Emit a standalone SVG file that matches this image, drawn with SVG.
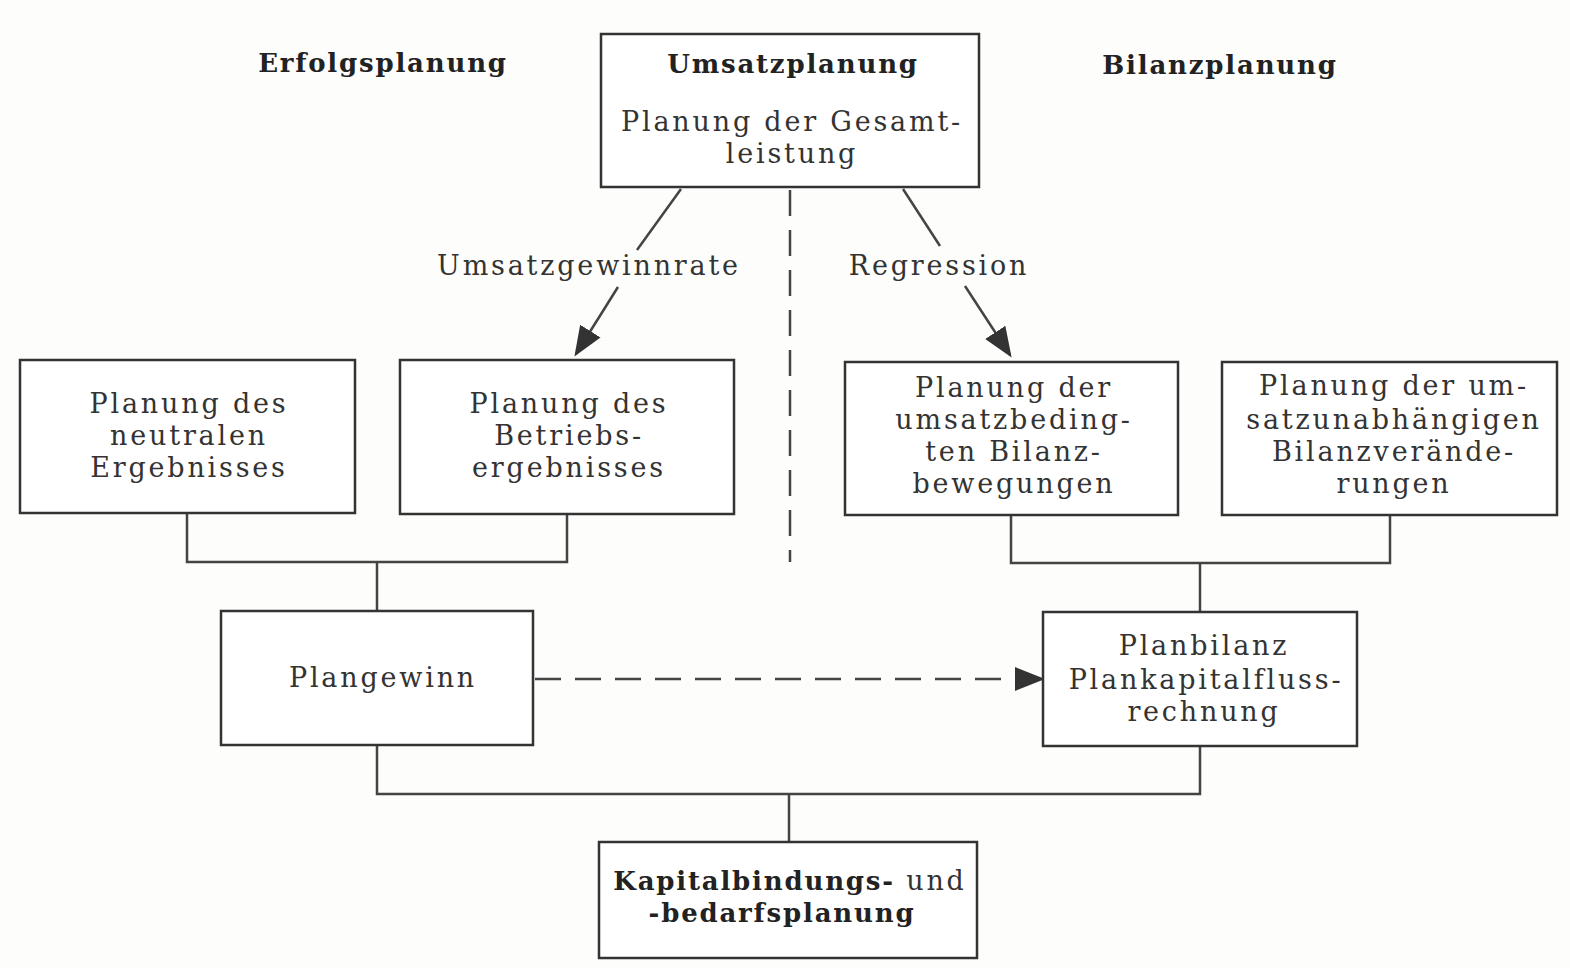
<svg xmlns="http://www.w3.org/2000/svg" width="1570" height="968" viewBox="0 0 1570 968">
<defs>
<style>
.box{fill:#fff;stroke:#333;stroke-width:2.5}
.t{font-family:"DejaVu Serif","Liberation Serif",serif;font-size:27px;fill:#333;text-anchor:middle;letter-spacing:2.8px}
.b{font-weight:bold;font-size:26px;fill:#222;letter-spacing:1.8px}
.c{fill:none;stroke:#444;stroke-width:2.5}
.d{stroke-dasharray:26,14}
</style>
<marker id="ah2" viewBox="0 0 10 10" refX="9" refY="5" markerWidth="30" markerHeight="30" markerUnits="userSpaceOnUse" orient="auto"><path d="M0,1L10,5L0,9z" fill="#333"/></marker>
</defs>
<rect width="1570" height="968" fill="#fdfdfb"/>
<g id="headers">
<text class="t b" x="383" y="72">Erfolgsplanung</text>
<text class="t b" x="1220" y="74">Bilanzplanung</text>
</g>
<g id="connectors">
<line class="c d" x1="790" y1="190" x2="790" y2="562"/>
<line class="c" x1="681" y1="189" x2="637" y2="250"/>
<line class="c" x1="618" y1="287" x2="576" y2="354" marker-end="url(#ah2)"/>
<line class="c" x1="903" y1="189" x2="940" y2="246"/>
<line class="c" x1="965" y1="286" x2="1010" y2="355" marker-end="url(#ah2)"/>
<polyline class="c" points="187,513 187,562 567,562 567,514"/>
<line class="c" x1="377" y1="562" x2="377" y2="611"/>
<polyline class="c" points="1011,515 1011,563 1390,563 1390,515"/>
<line class="c" x1="1200" y1="563" x2="1200" y2="612"/>
<polyline class="c" points="377,745 377,794 1200,794 1200,746"/>
<line class="c" x1="789" y1="794" x2="789" y2="842"/>
<line class="c d" x1="535" y1="679" x2="1042" y2="679" marker-end="url(#ah2)"/>
<text class="t" x="589" y="275">Umsatzgewinnrate</text>
<text class="t" x="939" y="275">Regression</text>
</g>
<g id="umsatz">
<rect class="box" x="601" y="34" width="378" height="153"/>
<text class="t b" x="793" y="73">Umsatzplanung</text>
<text class="t" x="792" y="131">Planung der Gesamt-</text>
<text class="t" x="792" y="163">leistung</text>
</g>
<g id="neutral">
<rect class="box" x="20" y="360" width="335" height="153"/>
<text class="t" x="189" y="413">Planung des</text>
<text class="t" x="189" y="445">neutralen</text>
<text class="t" x="189" y="477">Ergebnisses</text>
</g>
<g id="betrieb">
<rect class="box" x="400" y="360" width="334" height="154"/>
<text class="t" x="569" y="413">Planung des</text>
<text class="t" x="569" y="445">Betriebs-</text>
<text class="t" x="569" y="477">ergebnisses</text>
</g>
<g id="umsatzbedingt">
<rect class="box" x="845" y="362" width="333" height="153"/>
<text class="t" x="1014" y="397">Planung der</text>
<text class="t" x="1014" y="429">umsatzbeding-</text>
<text class="t" x="1014" y="461">ten Bilanz-</text>
<text class="t" x="1014" y="493">bewegungen</text>
</g>
<g id="umsatzunabh">
<rect class="box" x="1222" y="362" width="335" height="153"/>
<text class="t" x="1394" y="395">Planung der um-</text>
<text class="t" x="1394" y="429">satzunabhängigen</text>
<text class="t" x="1394" y="461">Bilanzverände-</text>
<text class="t" x="1394" y="493">rungen</text>
</g>
<g id="plangewinn">
<rect class="box" x="221" y="611" width="312" height="134"/>
<text class="t" x="383" y="687">Plangewinn</text>
</g>
<g id="planbilanz">
<rect class="box" x="1043" y="612" width="314" height="134"/>
<text class="t" x="1204" y="655">Planbilanz</text>
<text class="t" x="1206" y="689">Plankapitalfluss-</text>
<text class="t" x="1204" y="721">rechnung</text>
</g>
<g id="kapital">
<rect class="box" x="599" y="842" width="378" height="116"/>
<text class="t" x="790" y="890"><tspan font-weight="bold" font-size="26" fill="#222" letter-spacing="1.8">Kapitalbindungs-</tspan> und</text>
<text class="t b" x="782" y="922">-bedarfsplanung</text>
</g>
</svg>
